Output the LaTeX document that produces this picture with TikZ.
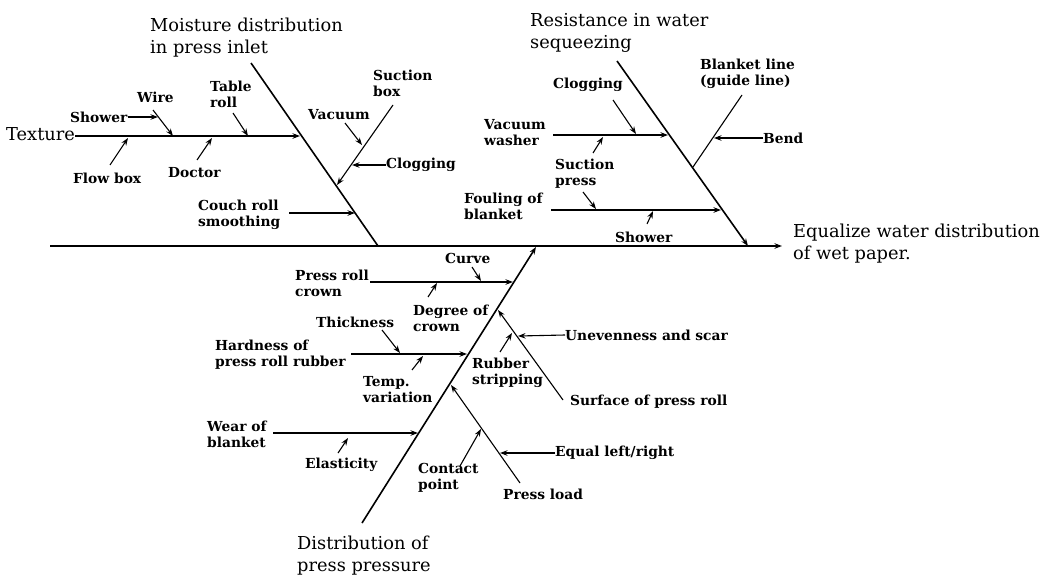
\documentclass[tikz,border=0pt]{standalone}
\usepackage{fontspec}
\setmainfont{DejaVu Serif}
\usetikzlibrary{arrows.meta}

\begin{document}
\begin{tikzpicture}[x=1pt,y=-1pt,
    >={Stealth[length=7.5pt,width=5.5pt]},
    bone/.style={line width=1.6pt},
    twig/.style={line width=1.1pt},
    cause/.style={font=\fontsize{13.8}{16}\selectfont\bfseries, align=left, inner sep=0pt, anchor=west},
    effect/.style={font=\fontsize{17.8}{22}\selectfont, align=left, inner sep=0pt, anchor=west}]
\useasboundingbox (0,0) rectangle (1043,575);

% Spine and effect
\node[effect] (goal) at (793,244) {Equalize water distribution\\of wet paper.};
\coordinate (tail) at (50,246);
\coordinate (head) at (782,246);
\draw[bone,->] (tail) -- (head);

% Moisture distribution in press inlet
\node[effect] (moist) at (150,38) {Moisture distribution\\in press inlet};
\coordinate (m0) at (251,63);
\coordinate (m1) at (378,246);
\draw[bone] (m0) -- (m1);

\node[effect] (texture) at (6,134) {Texture};
\coordinate (mtex) at (300,136);
\draw[twig,->] (texture.east |- mtex) -- (mtex);

\node[cause] (shower) at (70,117) {Shower};
\coordinate (wireS) at (158,117);
\draw[twig,->] (shower.east) -- (wireS);

\node[cause] (wire) at (137,97) {Wire};
\coordinate (wire0) at (153,110);
\coordinate (wire1) at (173,136);
\draw[twig,->] (wire0) -- (wire1);

\node[cause] (tableroll) at (210,94) {Table\\roll};
\coordinate (tab0) at (233,113);
\coordinate (tab1) at (248,136);
\draw[twig,->] (tab0) -- (tab1);

\node[cause] (flowbox) at (73,178) {Flow box};
\coordinate (flow0) at (110,165);
\coordinate (flow1) at (128,138);
\draw[twig,->] (flow0) -- (flow1);

\node[cause] (doctor) at (168,173) {Doctor};
\coordinate (doc0) at (197,160);
\coordinate (doc1) at (212,138);
\draw[twig,->] (doc0) -- (doc1);

\node[cause] (suctionbox) at (373,83) {Suction\\box};
\coordinate (sb0) at (393,105);
\coordinate (sb1) at (337,185);
\draw[twig,->] (sb0) -- (sb1);

\node[cause] (vacuum) at (308,115) {Vacuum};
\coordinate (vac0) at (345,123);
\coordinate (vac1) at (362,145);
\draw[twig,->] (vac0) -- (vac1);

\node[cause] (clogA) at (386,165) {Clogging};
\coordinate (sbC) at (352,165);
\draw[twig,->] (clogA.west) -- (sbC);

\node[cause] (couch) at (198,215) {Couch roll\\smoothing};
\coordinate (couch0) at (289,213);
\coordinate (couch1) at (355,213);
\draw[twig,->] (couch0) -- (couch1);

% Resistance in water sequeezing
\node[effect] (resist) at (530,33) {Resistance in water\\sequeezing};
\coordinate (r0) at (617,61);
\coordinate (r1) at (748,246);
\draw[bone,->] (r0) -- (r1);

\node[cause] (blanket) at (700,74) {Blanket line\\(guide line)};
\coordinate (bl0) at (742,95);
\coordinate (bl1) at (693,167);
\draw[twig] (bl0) -- (bl1);

\node[cause] (bend) at (763,138) {Bend};
\coordinate (blB) at (714,138);
\draw[twig,->] (bend.west) -- (blB);

\node[cause] (clogB) at (553,85) {Clogging};
\coordinate (clog0) at (613,100);
\coordinate (clog1) at (636,134);
\draw[twig,->] (clog0) -- (clog1);

\node[cause] (vwasher) at (484,133) {Vacuum\\washer};
\coordinate (vw0) at (553,135);
\coordinate (vw1) at (668,135);
\draw[twig,->] (vw0) -- (vw1);

\node[cause] (spress) at (555,174) {Suction\\press};
\coordinate (sp0) at (593,153);
\coordinate (sp1) at (603,137);
\coordinate (sp2) at (583,192);
\coordinate (sp3) at (596,209);
\draw[twig,->] (sp0) -- (sp1);
\draw[twig,->] (sp2) -- (sp3);

\node[cause] (fouling) at (464,206) {Fouling of\\blanket};
\coordinate (fb0) at (551,210);
\coordinate (fb1) at (721,210);
\draw[twig,->] (fb0) -- (fb1);

\node[cause] (showerB) at (615,237) {Shower};
\coordinate (sh0) at (647,224);
\coordinate (sh1) at (653,211);
\draw[twig,->] (sh0) -- (sh1);

% Distribution of press pressure
\node[effect] (distr) at (297,556) {Distribution of\\press pressure};
\coordinate (d0) at (362,523);
\coordinate (d1) at (536,247);
\draw[bone,->] (d0) -- (d1);

\node[cause] (crown) at (295,283) {Press roll\\crown};
\coordinate (pr0) at (370,282);
\coordinate (pr1) at (513,282);
\draw[twig,->] (pr0) -- (pr1);

\node[cause] (curve) at (445,258) {Curve};
\coordinate (cv0) at (472,267);
\coordinate (cv1) at (481,281);
\draw[twig,->] (cv0) -- (cv1);

\node[cause] (degree) at (413,318) {Degree of\\crown};
\coordinate (dg0) at (428,297);
\coordinate (dg1) at (437,283);
\draw[twig,->] (dg0) -- (dg1);

\node[cause] (thick) at (316,322) {Thickness};
\coordinate (th0) at (382,330);
\coordinate (th1) at (400,353);
\draw[twig,->] (th0) -- (th1);

\node[cause] (hardness) at (215,355) {Hardness of\\press roll rubber};
\coordinate (hd0) at (351,354);
\coordinate (hd1) at (467,354);
\draw[twig,->] (hd0) -- (hd1);

\node[cause] (temp) at (363,390) {Temp.\\variation};
\coordinate (tp0) at (412,370);
\coordinate (tp1) at (423,356);
\draw[twig,->] (tp0) -- (tp1);

\node[cause] (surface) at (570,402) {Surface of press roll};
\coordinate (sf0) at (563,400);
\coordinate (sf1) at (498,310);
\draw[twig,->] (sf0) -- (sf1);

\node[cause] (uneven) at (565,335) {Unevenness and scar};
\coordinate (sfU) at (518,336);
\draw[twig,->] (uneven.west) -- (sfU);

\node[cause] (rubber) at (472,373) {Rubber\\stripping};
\coordinate (rb0) at (500,352);
\coordinate (rb1) at (512,333);
\draw[twig,->] (rb0) -- (rb1);

\node[cause] (pload) at (503,494) {Press load};
\coordinate (pl0) at (520,483);
\coordinate (pl1) at (451,385);
\draw[twig,->] (pl0) -- (pl1);

\node[cause] (equal) at (555,453) {Equal left/right};
\coordinate (plE) at (500,453);
\draw[twig,->] (equal.west) -- (plE);

\node[cause] (contact) at (418,478) {Contact\\point};
\coordinate (ct0) at (460,466);
\coordinate (ct1) at (481,429);
\draw[twig,->] (ct0) -- (ct1);

\node[cause] (wear) at (207,434) {Wear of\\blanket};
\coordinate (wb0) at (273,433);
\coordinate (wb1) at (418,433);
\draw[twig,->] (wb0) -- (wb1);

\node[cause] (elastic) at (305,465) {Elasticity};
\coordinate (el0) at (338,453);
\coordinate (el1) at (348,438);
\draw[twig,->] (el0) -- (el1);

\end{tikzpicture}
\end{document}
